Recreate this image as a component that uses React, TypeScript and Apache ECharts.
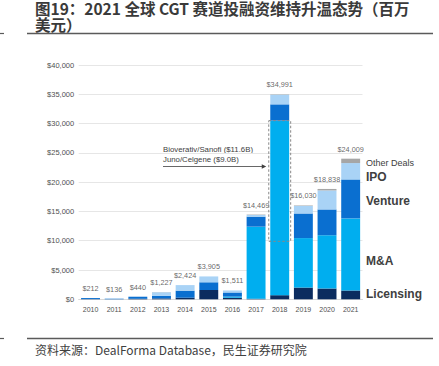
import React, { useEffect, useRef } from "react";
import * as echarts from "echarts";

const years = ["2010", "2011", "2012", "2013", "2014", "2015", "2016", "2017", "2018", "2019", "2020", "2021"];
const licensing = [32, 0, 90, 150, 274, 1585, 261, 100, 700, 2000, 1838, 1500];
const mna = [0, 0, 0, 0, 0, 0, 200, 12300, 29800, 8450, 9100, 12309];
const venture = [180, 100, 350, 450, 1200, 1320, 700, 1700, 2780, 4200, 4400, 6650];
const ipo = [0, 36, 0, 600, 950, 1000, 350, 300, 1650, 1300, 3250, 2800];
const otherDeals = [0, 0, 0, 27, 0, 0, 0, 69, 61, 80, 250, 750];
const totals = [212, 136, 440, 1227, 2424, 3905, 1511, 14469, 34991, 16030, 18838, 24009];
const seriesNames = ["Licensing", "M&A", "Venture", "IPO", "Other Deals"];
const colors = ["#0b2c5f", "#00aeef", "#0a6fd0", "#a9d3f6", "#a6a6a6"];
const annoLines = ["Bioverativ/Sanofi ($11.6B)", "Juno/Celgene ($9.0B)"];
const highlightYear = "2018";
const highlightDeals = 20600;

const LATIN = '"Liberation Sans", Arial, sans-serif';
const CJK = '"Noto Sans CJK SC", "Liberation Sans", sans-serif';

export default function App() {
  const ref = useRef<HTMLDivElement>(null);
  useEffect(() => {
    if (!ref.current) return;
    const chart = echarts.init(ref.current, null, { renderer: "svg" });
    const dataSets = [licensing, mna, venture, ipo, otherDeals];
    const textCol = "#404040";
    const legendLabels = [
      { t: "Other Deals", y: 162.5, s: 9, w: "normal" },
      { t: "IPO", y: 176.5, s: 12, w: "bold" },
      { t: "Venture", y: 201, s: 12, w: "bold" },
      { t: "M&A", y: 261, s: 12, w: "bold" },
      { t: "Licensing", y: 294, s: 12, w: "bold" },
    ];
    const baseGraphic: any[] = [
      {
        type: "text",
        left: 35,
        top: 0,
        style: {
          text: "图19：2021 全球 CGT 赛道投融资维持升温态势（百万\n美元）",
          font: `bold 15.5px ${CJK}`,
          lineHeight: 16,
          fill: "#3a3a3a",
        },
      },
      { type: "line", shape: { x1: 27, y1: 33.5, x2: 433, y2: 33.5 }, style: { stroke: "#5a5a5a", lineWidth: 1.6 } },
      { type: "line", shape: { x1: 0, y1: 33.5, x2: 4, y2: 33.5 }, style: { stroke: "#5a5a5a", lineWidth: 1.2 } },
      { type: "line", shape: { x1: 27, y1: 338.5, x2: 433, y2: 338.5 }, style: { stroke: "#5a5a5a", lineWidth: 1.6 } },
      { type: "line", shape: { x1: 0, y1: 338.5, x2: 4, y2: 338.5 }, style: { stroke: "#5a5a5a", lineWidth: 1.2 } },
      { type: "text", left: 35, top: 343, style: { text: "资料来源：DealForma Database，民生证券研究院", font: `12px ${CJK}`, fill: "#404040" } },
      { type: "text", x: 163, y: 149, style: { text: annoLines[0], font: `7.8px ${LATIN}`, fill: textCol, textVerticalAlign: "middle" } },
      { type: "text", x: 163, y: 159, style: { text: annoLines[1], font: `7.8px ${LATIN}`, fill: textCol, textVerticalAlign: "middle" } },
      ...legendLabels.map((l) => ({
        type: "text",
        x: 366,
        y: l.y,
        style: { text: l.t, font: `${l.w} ${l.s}px ${LATIN}`, fill: textCol, textVerticalAlign: "middle" },
      })),
    ];
    const option: any = {
      animation: false,
      grid: { left: 78.7, right: 76.5, top: 65, bottom: 66.7 },
      xAxis: {
        type: "category",
        data: years,
        axisLine: { lineStyle: { color: "#d9d9d9" } },
        axisTick: { show: false },
        axisLabel: { fontSize: 7, color: "#505050", margin: 7, fontFamily: LATIN },
      },
      yAxis: {
        type: "value",
        min: 0,
        max: 40000,
        interval: 5000,
        axisLine: { show: false },
        axisTick: { show: false },
        splitLine: { lineStyle: { color: "#e6e6e6" } },
        axisLabel: {
          fontSize: 7.5,
          color: "#505050",
          margin: 4.5,
          fontFamily: LATIN,
          formatter: (v: number) => "$" + v.toLocaleString("en-US"),
        },
      },
      series: [
        ...seriesNames.map((n, i) => ({
          name: n,
          type: "bar",
          stack: "total",
          barCategoryGap: "20%",
          data: dataSets[i],
          itemStyle: { color: colors[i] },
        })),
        {
          name: "Total",
          type: "scatter",
          data: totals,
          symbolSize: 2,
          itemStyle: { color: "rgba(0,0,0,0)" },
          label: {
            show: true,
            position: "top",
            distance: 5,
            fontSize: 7.3,
            color: "#404040",
            fontFamily: LATIN,
            formatter: (p: any) => "$" + Number(p.value).toLocaleString("en-US"),
          },
          z: 10,
        },
      ],
      graphic: baseGraphic,
    };
    chart.setOption(option);

    const idx = years.indexOf(highlightYear);
    const top = licensing[idx] + mna[idx];
    const pTop = chart.convertToPixel({ gridIndex: 0 } as any, [idx, top]) as number[];
    const pBot = chart.convertToPixel({ gridIndex: 0 } as any, [idx, top - highlightDeals]) as number[];
    const pNext = chart.convertToPixel({ gridIndex: 0 } as any, [idx + 1, 0]) as number[];
    const catW = pNext[0] - pTop[0];
    const half = (catW * 0.8) / 2 + 1.5;
    const bx1 = pTop[0] - half;
    const bx2 = pTop[0] + half;
    const ay = 166.5;
    chart.setOption({
      graphic: [
        ...baseGraphic,
        {
          type: "rect",
          shape: { x: bx1, y: pTop[1], width: bx2 - bx1, height: pBot[1] - pTop[1] },
          style: { fill: "none", stroke: "#888", lineWidth: 1, lineDash: [2.5, 2] },
          z: 100,
        },
        { type: "line", shape: { x1: 163, y1: ay, x2: bx1 - 6, y2: ay }, style: { stroke: "#404040", lineWidth: 0.8 }, z: 100 },
        {
          type: "polygon",
          shape: { points: [[bx1 - 2.5, ay], [bx1 - 7, ay - 2.2], [bx1 - 7, ay + 2.2]] },
          style: { fill: "#404040" },
          z: 100,
        },
      ],
    });
    return () => chart.dispose();
  }, []);
  return <div ref={ref} style={{ position: "fixed", left: 0, top: 0, width: 439, height: 366, background: "#fff" }} />;
}
